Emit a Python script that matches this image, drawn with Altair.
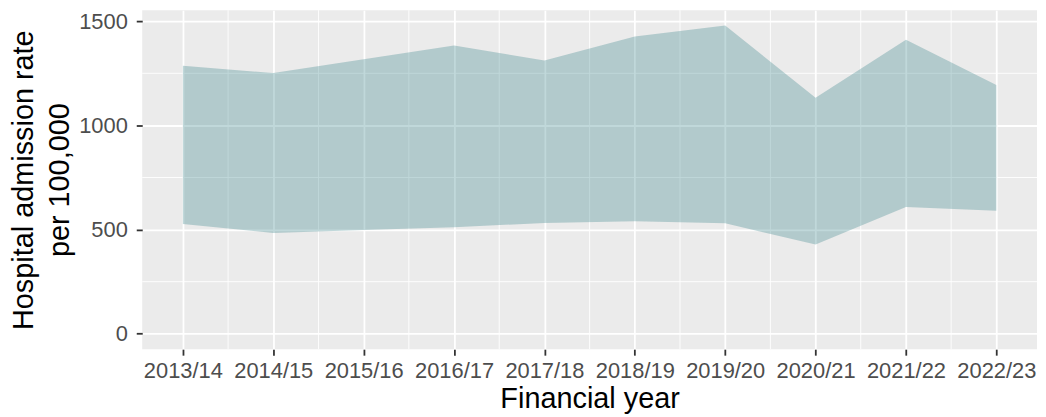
import json
import altair as alt
import pandas as pd

years = ["2013/14", "2014/15", "2015/16", "2016/17", "2017/18",
         "2018/19", "2019/20", "2020/21", "2021/22", "2022/23"]
upper = [1286, 1251, 1318, 1384, 1311, 1427, 1479, 1133, 1411, 1194]
lower = [527, 484, 498, 511, 532, 540, 530, 429, 608, 590]
y_ticks = [0, 500, 1000, 1500]
y_minor = [250, 750, 1250]

df = pd.DataFrame({"year": years, "idx": list(range(len(years))),
                   "upper": upper, "lower": lower})
xminor = pd.DataFrame({"x": [i + 0.5 for i in range(len(years) - 1)]})
yminor = pd.DataFrame({"y": y_minor})

FONT = "Liberation Sans"
x_scale = alt.Scale(domain=[-0.45, len(years) - 1 + 0.45], nice=False, zero=False)
y_scale = alt.Scale(domain=[-74, 1553], nice=False, zero=False)
label_expr = f"{json.dumps(years)}[datum.value]"

common_axis = dict(
    grid=True, gridColor="white", gridWidth=1.8, domain=False,
    tickColor="#333333", tickSize=6, tickWidth=1.8,
    labelColor="#4D4D4D", labelFontSize=22, labelFont=FONT,
    titleFontSize=29, titleColor="black", titleFontWeight="normal", titleFont=FONT,
)

xaxis = alt.Axis(values=list(range(len(years))), labelExpr=label_expr,
                 title="Financial year", labelPadding=5, titlePadding=4,
                 **common_axis)
yaxis = alt.Axis(values=y_ticks, format="d",
                 title=["Hospital admission rate", "per 100,000"],
                 labelPadding=9, titlePadding=4, titleLineHeight=36,
                 **common_axis)

minor_x = alt.Chart(xminor).mark_rule(color="white", strokeWidth=0.9).encode(
    x=alt.X("x:Q", scale=x_scale, axis=xaxis)
)
minor_y = alt.Chart(yminor).mark_rule(color="white", strokeWidth=0.9).encode(
    y=alt.Y("y:Q", scale=y_scale, axis=yaxis)
)
area = alt.Chart(df).mark_area(color="#307D84", opacity=0.3).encode(
    x=alt.X("idx:Q", scale=x_scale, axis=xaxis),
    y=alt.Y("lower:Q", scale=y_scale, axis=yaxis),
    y2="upper:Q",
)

chart = alt.layer(minor_x, minor_y, area).properties(
    width=900, height=341,
    padding={"left": 2, "top": 0, "right": 0, "bottom": 0},
).configure_view(fill="#EBEBEB", stroke=None)

chart.save("out.html", embed_options={"renderer": "svg", "actions": False})
